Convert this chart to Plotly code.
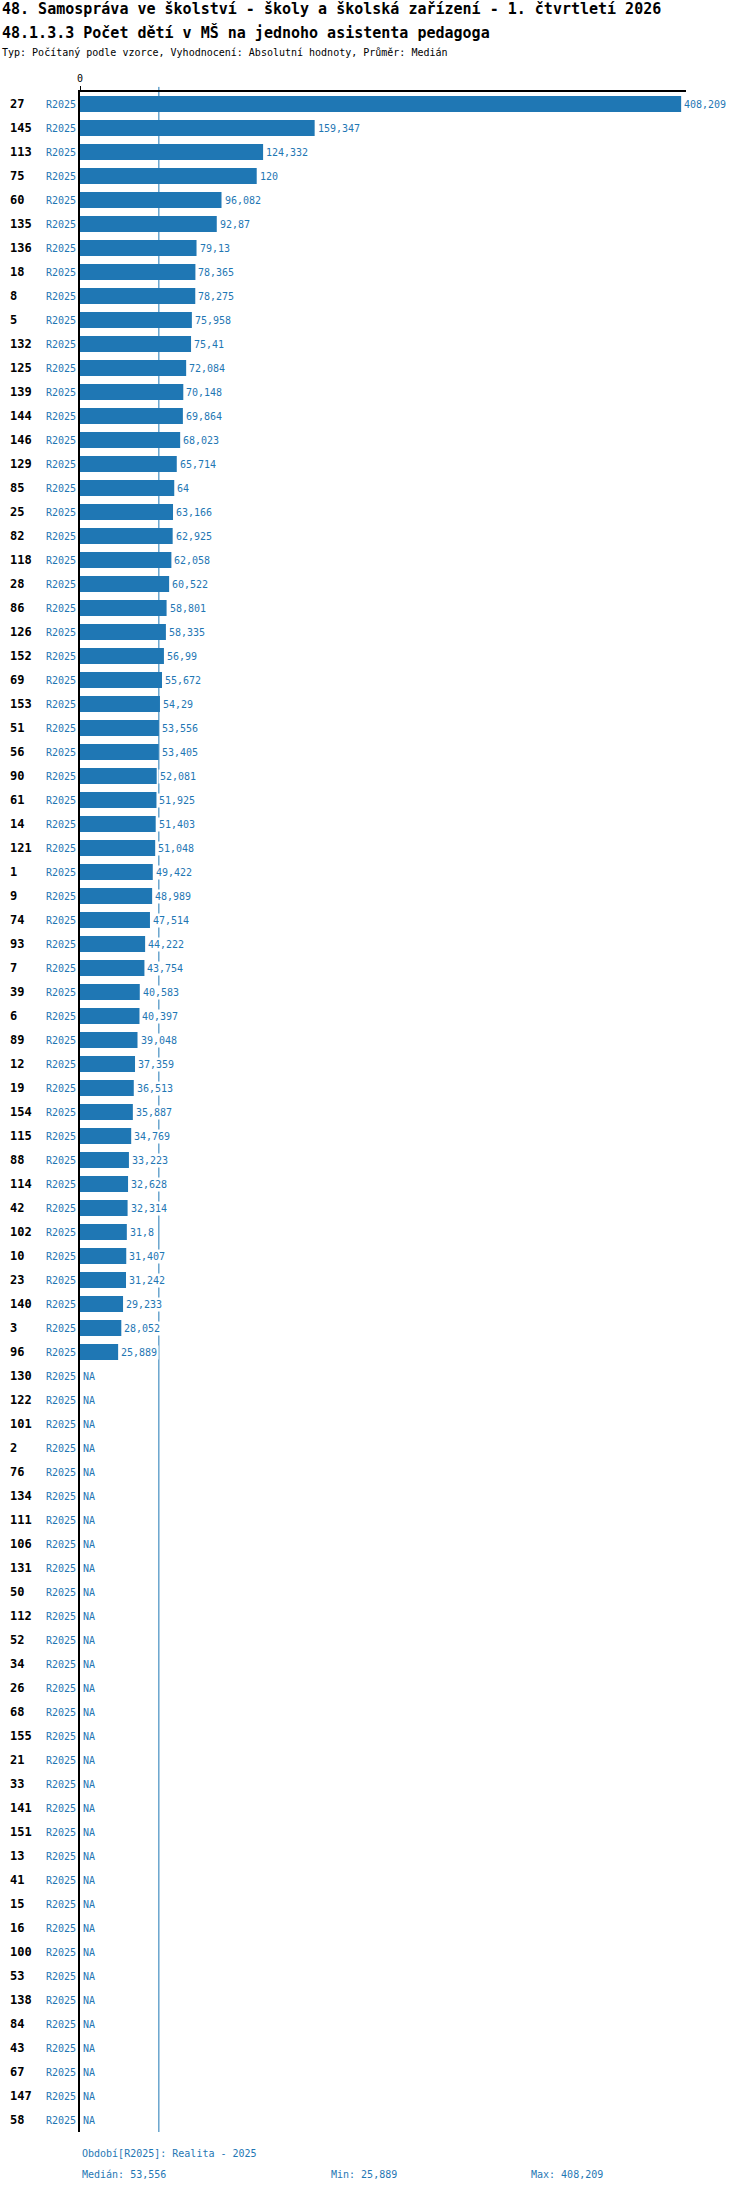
import plotly.graph_objects as go

# kategorie (obce) a hodnoty za období R2025, None = NA
categories = [
    "27", "145", "113", "75", "60", "135", "136", "18", "8", "5", "132", "125",
    "139", "144", "146", "129", "85", "25", "82", "118", "28", "86", "126", "152",
    "69", "153", "51", "56", "90", "61", "14", "121", "1", "9", "74", "93", "7",
    "39", "6", "89", "12", "19", "154", "115", "88", "114", "42", "102", "10",
    "23", "140", "3", "96",
    "130", "122", "101", "2", "76", "134", "111", "106", "131", "50", "112", "52",
    "34", "26", "68", "155", "21", "33", "141", "151", "13", "41", "15", "16",
    "100", "53", "138", "84", "43", "67", "147", "58",
]
values = [
    408.209, 159.347, 124.332, 120, 96.082, 92.87, 79.13, 78.365, 78.275, 75.958,
    75.41, 72.084, 70.148, 69.864, 68.023, 65.714, 64, 63.166, 62.925, 62.058,
    60.522, 58.801, 58.335, 56.99, 55.672, 54.29, 53.556, 53.405, 52.081, 51.925,
    51.403, 51.048, 49.422, 48.989, 47.514, 44.222, 43.754, 40.583, 40.397,
    39.048, 37.359, 36.513, 35.887, 34.769, 33.223, 32.628, 32.314, 31.8, 31.407,
    31.242, 29.233, 28.052, 25.889,
] + [None] * 32
period = "R2025"
period_label = "Realita - 2025"

title1 = "48. Samospráva ve školství - školy a školská zařízení - 1. čtvrtletí 2026"
title2 = "48.1.3.3 Počet dětí v MŠ na jednoho asistenta pedagoga"
title3 = "Typ: Počítaný podle vzorce, Vyhodnocení: Absolutní hodnoty, Průměr: Medián"

BLUE = "#1f77b4"
FONT = "DejaVu Sans Mono"


def fmt(v):
    # české desetinné číslo: čárka, bez koncových nul
    s = f"{v:.3f}".rstrip("0").rstrip(".")
    return s.replace(".", ",")


known = sorted(v for v in values if v is not None)
n = len(known)
median = known[n // 2] if n % 2 else (known[n // 2 - 1] + known[n // 2]) / 2
vmin, vmax = known[0], known[-1]

fig = go.Figure()
fig.add_trace(go.Bar(
    x=values,
    y=categories,
    orientation="h",
    marker=dict(color=BLUE, line=dict(width=0)),
    hoverinfo="x+y",
))

# popisky hodnot (bílé pozadí překrývá čáru mediánu)
# na kategoriální ose se anotace umisťují indexem kategorie
for i, (cat, v) in enumerate(zip(categories, values)):
    fig.add_annotation(
        x=v if v is not None else 0, y=i, xref="x", yref="y",
        text=fmt(v) if v is not None else "NA",
        showarrow=False, xanchor="left", yanchor="middle", xshift=1,
        bgcolor="white", borderpad=1,
        font=dict(family=FONT, size=10, color=BLUE),
    )
    # tučné názvy kategorií vlevo
    fig.add_annotation(
        x=0, y=i, xref="paper", yref="y", text=f"<b>{cat}</b>",
        showarrow=False, xanchor="left", yanchor="middle", xshift=-72,
        font=dict(family=FONT, size=12, color="black"),
    )

# čára mediánu
fig.add_shape(
    type="line", x0=median, x1=median, xref="x", yref="paper",
    y0=0, y1=1.0025, layer="below", line=dict(color=BLUE, width=1),
)

# nadpisy
for txt, size, shift, bold in [(title1, 15, 83, True), (title2, 15, 60, True),
                               (title3, 10, 40, False)]:
    fig.add_annotation(
        x=0, y=1, xref="paper", yref="paper",
        text=f"<b>{txt}</b>" if bold else txt,
        showarrow=False, xanchor="left", yanchor="middle",
        xshift=-80, yshift=shift,
        font=dict(family=FONT, size=size, color="black"),
    )

# zápatí
footer = [
    (f"Období[{period}]: {period_label}", 0, -21),
    (f"Medián: {fmt(median)}", 0, -42),
    (f"Min: {fmt(vmin)}", 249, -42),
    (f"Max: {fmt(vmax)}", 449, -42),
]
for txt, xs, ys in footer:
    fig.add_annotation(
        x=0, y=0, xref="paper", yref="paper", text=txt,
        showarrow=False, xanchor="left", yanchor="middle",
        xshift=xs, yshift=ys,
        font=dict(family=FONT, size=10, color=BLUE),
    )

fig.update_layout(
    width=750, height=2192,
    margin=dict(l=80, r=64, t=92, b=60, pad=0),
    paper_bgcolor="white", plot_bgcolor="white",
    bargap=1 / 3,
    showlegend=False,
    font=dict(family=FONT, size=10, color="black"),
    xaxis=dict(
        side="top", range=[0, 411.5], tickvals=[0], ticktext=["0"],
        ticks="outside", ticklen=4, tickcolor="black", tickwidth=1,
        showgrid=False, zeroline=False, showline=True,
        linecolor="black", linewidth=2,
        tickfont=dict(family=FONT, size=10, color="black"),
    ),
    yaxis=dict(
        type="category", categoryorder="array", categoryarray=categories,
        range=[len(categories) - 0.5, -0.5],
        tickvals=categories,
        ticktext=[period] * len(categories), ticks="",
        showgrid=False, zeroline=False, showline=True,
        linecolor="black", linewidth=2,
        tickfont=dict(family=FONT, size=10, color=BLUE),
    ),
)

# bez výchozího okraje stránky, aby graf začínal v rohu okna
fig.write_html("out.html",
               config={"displayModeBar": False},
               post_script="document.body.style.margin='0';")
